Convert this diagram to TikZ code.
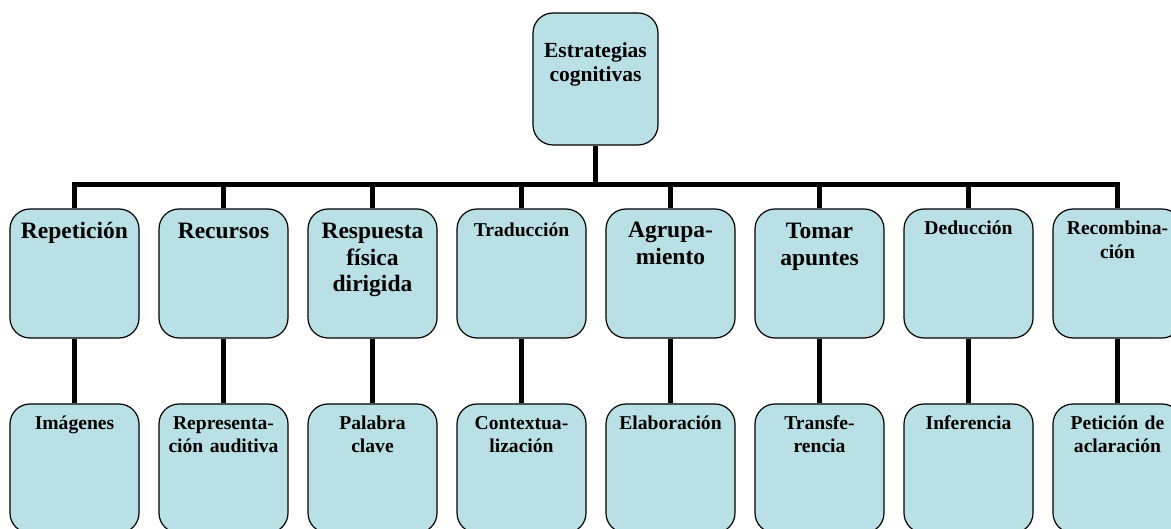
\documentclass[tikz,border=0pt]{standalone}
\usepackage{fontspec}
\setmainfont{Liberation Serif}
\begin{document}
\begin{tikzpicture}[x=1pt,y=-1pt,
  boxshape/.style={draw=black, line width=1.2pt, fill=boxfill, rounded corners=20pt,
    minimum width=129pt, minimum height=129pt, inner sep=0pt},
  lbl/.style={anchor=base, inner sep=0pt, align=center, text width=150pt, font=\bfseries},
  big/.style={font=\bfseries\fontsize{23.5}{26.5}\selectfont},
  small/.style={font=\bfseries\fontsize{19.6}{23.5}\selectfont},
  conn/.style={line width=5.5pt, draw=black}]
\definecolor{boxfill}{RGB}{185,224,228}
\useasboundingbox (0,0) rectangle (1171,529);
% top node
\node[boxshape, minimum width=125pt, minimum height=132pt] (top) at (595.5,79) {};
\node[lbl, font=\bfseries\fontsize{21.5}{24}\selectfont] (ttop) at (595.5,58) {Estrategias\\cognitivas};
% level 1
\foreach \i/\t/\s/\b in {1/Repetición/big/238.5, 2/Recursos/big/238.5,
   3/{Respuesta\\física\\dirigida}/big/239, 4/Traducción/small/237,
   5/{Agrupa-\\miento}/big/238, 6/{Tomar\\apuntes}/big/239,
   7/Deducción/small/235, 8/{Recombina-\\ción}/small/235}{
  \node[boxshape] (a\i) at ({74.5+149*(\i-1)},273.5) {};
  \node[lbl,\s] (ta\i) at ({74.5+149*(\i-1)},\b) {\t};
}
% level 2
\foreach \i/\t in {1/Imágenes, 2/{Representa-\\ción auditiva}, 3/{Palabra\\clave},
   4/{Contextua-\\lización}, 5/Elaboración, 6/{Transfe-\\rencia}, 7/Inferencia,
   8/{Petición de\\aclaración}}{
  \node[boxshape] (b\i) at ({74.5+149*(\i-1)},468.5) {};
  \node[lbl,small] (tb\i) at ({74.5+149*(\i-1)},429.5) {\t};
}
% connectors
\coordinate (barl) at (74.5,184.5);
\draw[conn] (top.south) -- (top.south |- barl);
\draw[conn, line join=miter] (a1.north) -- (a1.north |- barl) -- (a8.north |- barl) -- (a8.north);
\foreach \i in {2,...,7}{
  \draw[conn] (a\i.north |- barl) -- (a\i.north);
}
\foreach \i in {1,...,8}{
  \draw[conn] (a\i.south) -- (b\i.north);
}
\end{tikzpicture}
\end{document}
